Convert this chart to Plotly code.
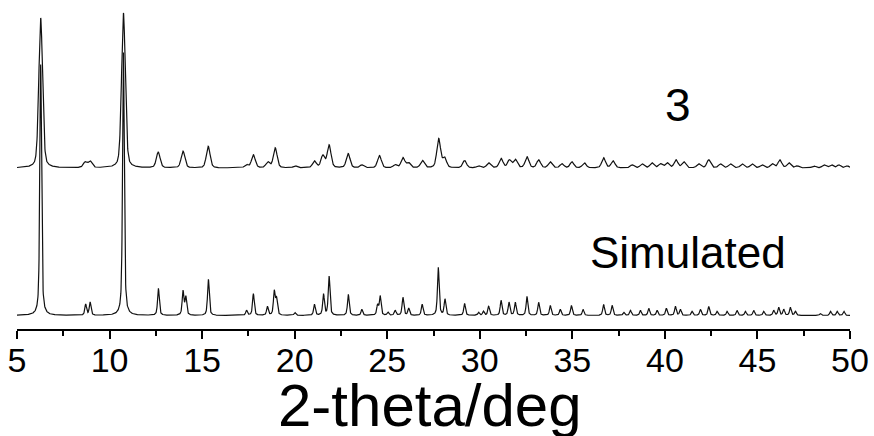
import numpy as np
import plotly.graph_objects as go

# ---- data (peak positions in 2-theta, heights in arbitrary units) ----
exp_pos = [6.28, 8.68, 8.95, 10.75, 12.63, 13.97, 15.33, 17.4, 17.77, 18.55, 18.95, 20.03,
           21.07, 21.52, 21.86, 22.89, 23.63, 24.58, 25.43, 25.85, 26.15, 26.9, 27.78, 28.1,
           29.18, 29.94, 30.48, 31.15, 31.6, 31.92, 32.55, 33.18, 33.8, 34.44, 34.98,
           35.65, 36.69, 37.2, 38.23, 38.77, 39.3, 39.76, 40.12, 40.6, 41.02, 41.83, 42.37,
           43.0, 43.54, 44.17, 44.71, 45.25, 45.8, 46.21, 46.7, 47.15, 48.05, 48.6, 49.0,
           49.4, 49.85]
exp_int = [150, 5.5, 6.5, 155, 15.6, 16.6, 21.6, 3, 13, 5.6, 20, 2,
           6.6, 12, 22.6, 14.3, 3, 12.3, 3, 10, 5, 7.3, 29, 9.6,
           7.3, 2, 5, 9.3, 7.6, 8.3, 11, 8, 6, 4, 6,
           5, 10, 7, 3, 4, 5, 4, 5, 8, 6, 4, 8,
           4, 4, 4, 4, 3, 4, 8, 5, 2, 2, 3, 3,
           3, 2]

sim_pos = [6.28, 8.71, 8.95, 10.75, 12.64, 13.97, 14.12, 15.34, 17.4, 17.77, 18.53, 18.9, 19.02,
           19.99, 20.03, 21.07, 21.56, 21.86, 22.9, 23.63, 24.48, 24.62, 25.04, 25.43, 25.85,
           26.16, 26.89, 27.76, 28.12, 29.18, 29.94, 30.2, 30.48, 31.15, 31.58, 31.92, 32.55,
           33.18, 33.81, 34.35, 34.95, 35.58, 36.69, 37.15, 37.78, 38.14, 38.68, 39.13, 39.58,
           40.08, 40.57, 40.84, 41.47, 41.92, 42.37, 42.82, 43.36, 43.9, 44.35, 44.8, 45.34,
           45.88, 46.15, 46.42, 46.78, 47.05, 48.4, 48.95, 49.31, 49.67]
sim_int = [251, 11, 13, 263, 27, 24, 18, 36, 5, 21.7, 8.7, 23.7, 16,
           1, 2, 11, 21, 39, 21, 6, 10, 19, 3, 5, 18,
           7, 11, 48, 16, 12, 3, 4, 9, 15, 13, 13, 19,
           13, 10, 6, 10, 6, 11, 10, 3, 5, 5, 7, 5,
           7, 9, 6, 4, 6, 9, 4, 4, 5, 4, 5, 4,
           5, 8, 6, 8, 4, 2, 4, 4, 4]

x_ticks = [5, 10, 15, 20, 25, 30, 35, 40, 45, 50]
label_exp = "3"
label_sim = "Simulated"
x_title = "2-theta/deg"

exp_offset = 161.0
sim_offset = 13.5
exp_fwhm = 0.24
sim_fwhm = 0.11

two_theta = np.round(np.arange(5.0, 50.0001, 0.01), 3)


def profile(pos, inten, fwhm, eta):
    y = np.zeros_like(two_theta)
    g = fwhm / 2.0
    s = fwhm / 2.3548
    for p, h in zip(pos, inten):
        d = two_theta - p
        lor = 1.0 / (1.0 + (d / g) ** 2)
        gau = np.exp(-0.5 * (d / s) ** 2)
        y += h * (eta * lor + (1 - eta) * gau)
    return y


y_exp = profile(exp_pos, exp_int, exp_fwhm, 0.35) + exp_offset
y_sim = profile(sim_pos, sim_int, sim_fwhm, 0.6) + sim_offset

FONT = "Arial, Liberation Sans"

fig = go.Figure()
fig.add_trace(go.Scatter(x=two_theta, y=y_exp, mode="lines",
                         line=dict(color="#111111", width=1.2), showlegend=False))
fig.add_trace(go.Scatter(x=two_theta, y=y_sim, mode="lines",
                         line=dict(color="#111111", width=1.2), showlegend=False))

fig.add_annotation(x=40.7, y=224, text=label_exp, showarrow=False,
                   font=dict(family=FONT, size=46, color="black"))
fig.add_annotation(x=41.25, y=77, text=label_sim, showarrow=False,
                   font=dict(family=FONT, size=44, color="black"))
fig.add_annotation(x=27.3, xref="x", y=0, yref="paper", yanchor="middle", yshift=-76,
                   text=x_title, showarrow=False,
                   font=dict(family=FONT, size=60, color="black"))

fig.update_layout(
    width=874, height=436,
    margin=dict(l=17, r=24, t=5, b=107, autoexpand=False),
    paper_bgcolor="white", plot_bgcolor="white",
    font=dict(family=FONT, color="black"),
    xaxis=dict(range=[5, 50], tickvals=x_ticks, ticktext=[str(v) for v in x_ticks],
               showgrid=False, zeroline=False, showline=True, linecolor="black", linewidth=2,
               ticks="outside", ticklen=8, tickwidth=2, tickcolor="black",
               tickfont=dict(size=34, family=FONT), automargin=False,
               ticklabelstandoff=-8,
               minor=dict(tickvals=[7.5 + 5 * i for i in range(9)], ticks="outside",
                          ticklen=5, tickwidth=2, tickcolor="black")),
    yaxis=dict(range=[0, 324], visible=False),
)

fig.write_html("out.html", config={"displayModeBar": False},
               post_script="document.body.style.margin='0';document.body.style.overflow='hidden';")
